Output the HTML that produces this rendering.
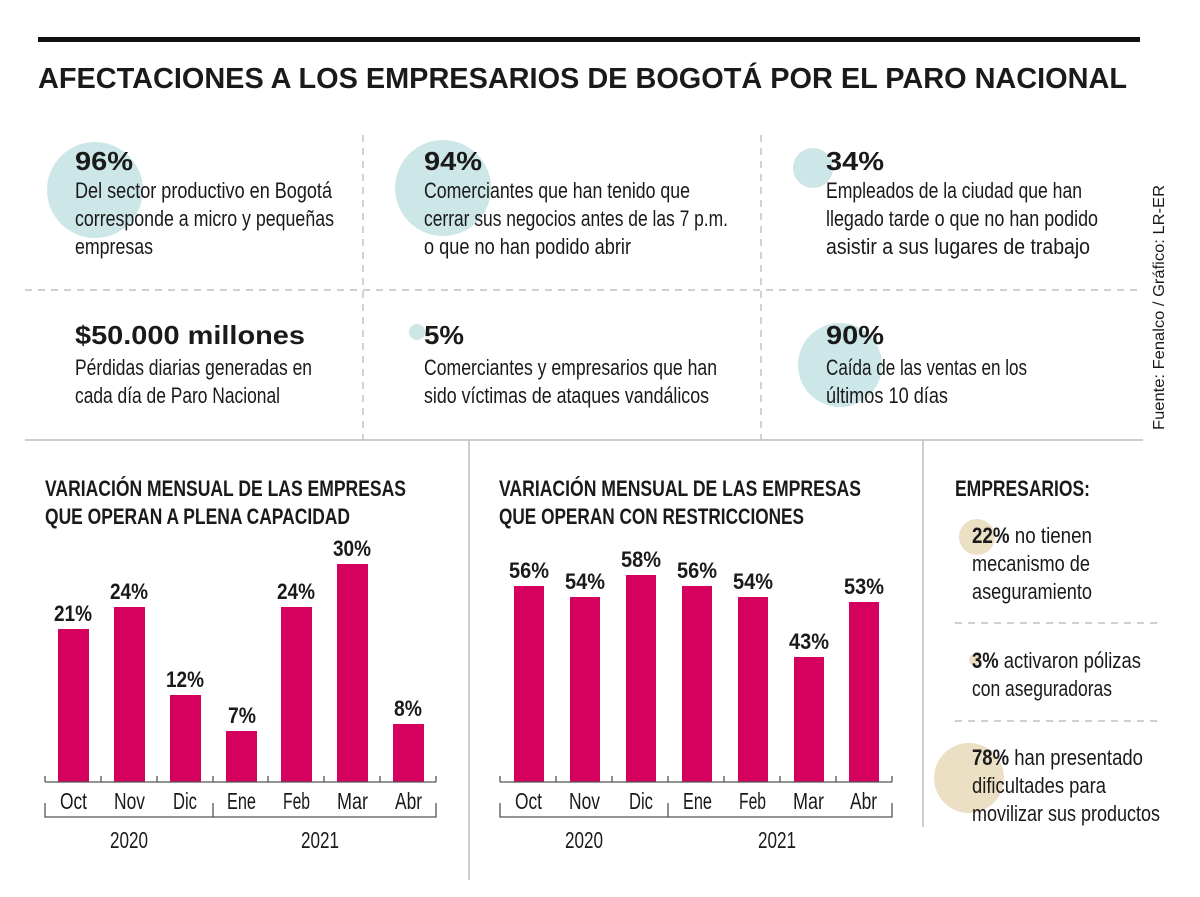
<!DOCTYPE html>
<html><head><meta charset="utf-8"><style>
html,body{margin:0;padding:0;background:#fff}
svg{display:block}
text{font-family:"Liberation Sans Narrow","Liberation Sans",sans-serif;fill:#1a1a1a}
.b{font-weight:bold}
</style></head><body>
<svg width="1200" height="897" viewBox="0 0 1200 897" xmlns="http://www.w3.org/2000/svg">
<rect x="38" y="37" width="1102" height="5" fill="#111"/>
<text x="38" y="88" class="b" font-size="29" textLength="1089" lengthAdjust="spacingAndGlyphs">AFECTACIONES A LOS EMPRESARIOS DE BOGOTÁ POR EL PARO NACIONAL</text>

<g fill="#cde6e7">
<circle cx="95" cy="190" r="48"/><circle cx="443" cy="188" r="48"/><circle cx="813" cy="168" r="20"/>
<circle cx="417" cy="332" r="8"/><circle cx="840" cy="365" r="42"/>
</g>
<g fill="#ebdfc4">
<circle cx="977" cy="537" r="18"/><circle cx="975" cy="660" r="6"/><circle cx="969" cy="778" r="35"/>
</g>

<g stroke="#b5b5b5" stroke-width="1.2" stroke-dasharray="7,6" fill="none">
<line x1="363" y1="135" x2="363" y2="440"/><line x1="761" y1="135" x2="761" y2="440"/>
<line x1="25" y1="290" x2="1140" y2="290"/>
<line x1="955" y1="623" x2="1163" y2="623"/><line x1="955" y1="721" x2="1163" y2="721"/>
</g>
<line x1="25" y1="440" x2="1143" y2="440" stroke="#bdbdbd" stroke-width="1.5"/>
<line x1="469" y1="440" x2="469" y2="880" stroke="#bdbdbd" stroke-width="1.5"/>
<line x1="923" y1="440" x2="923" y2="827" stroke="#bdbdbd" stroke-width="1.5"/>

<g font-size="22">
<text x="75" y="170" class="b" font-size="26" textLength="58" lengthAdjust="spacingAndGlyphs">96%</text>
<text x="75" y="198" textLength="257" lengthAdjust="spacingAndGlyphs">Del sector productivo en Bogotá</text>
<text x="75" y="226" textLength="259" lengthAdjust="spacingAndGlyphs">corresponde a micro y pequeñas</text>
<text x="75" y="254" textLength="78" lengthAdjust="spacingAndGlyphs">empresas</text>

<text x="424" y="170" class="b" font-size="26" textLength="58" lengthAdjust="spacingAndGlyphs">94%</text>
<text x="424" y="198" textLength="266" lengthAdjust="spacingAndGlyphs">Comerciantes que han tenido que</text>
<text x="424" y="226" textLength="304" lengthAdjust="spacingAndGlyphs">cerrar sus negocios antes de las 7 p.m.</text>
<text x="424" y="254" textLength="207" lengthAdjust="spacingAndGlyphs">o que no han podido abrir</text>

<text x="826" y="170" class="b" font-size="26" textLength="58" lengthAdjust="spacingAndGlyphs">34%</text>
<text x="826" y="198" textLength="256" lengthAdjust="spacingAndGlyphs">Empleados de la ciudad que han</text>
<text x="826" y="226" textLength="272" lengthAdjust="spacingAndGlyphs">llegado tarde o que no han podido</text>
<text x="826" y="254" textLength="264" lengthAdjust="spacingAndGlyphs">asistir a sus lugares de trabajo</text>

<text x="75" y="344" class="b" font-size="26" textLength="230" lengthAdjust="spacingAndGlyphs">$50.000 millones</text>
<text x="75" y="375" textLength="237" lengthAdjust="spacingAndGlyphs">Pérdidas diarias generadas en</text>
<text x="75" y="403" textLength="205" lengthAdjust="spacingAndGlyphs">cada día de Paro Nacional</text>

<text x="424" y="344" class="b" font-size="26" textLength="40" lengthAdjust="spacingAndGlyphs">5%</text>
<text x="424" y="375" textLength="293" lengthAdjust="spacingAndGlyphs">Comerciantes y empresarios que han</text>
<text x="424" y="403" textLength="285" lengthAdjust="spacingAndGlyphs">sido víctimas de ataques vandálicos</text>

<text x="826" y="344" class="b" font-size="26" textLength="58" lengthAdjust="spacingAndGlyphs">90%</text>
<text x="826" y="375" textLength="201" lengthAdjust="spacingAndGlyphs">Caída de las ventas en los</text>
<text x="826" y="403" textLength="122" lengthAdjust="spacingAndGlyphs">últimos 10 días</text>
</g>
<text transform="translate(1164,430) rotate(-90)" font-size="16" fill="#333" textLength="245" lengthAdjust="spacingAndGlyphs" style="font-family:'Liberation Sans',sans-serif">Fuente: Fenalco / Gráfico: LR-ER</text>

<g font-size="22">
<text x="45" y="496" class="b" textLength="361" lengthAdjust="spacingAndGlyphs">VARIACIÓN MENSUAL DE LAS EMPRESAS</text>
<text x="45" y="524" class="b" textLength="305" lengthAdjust="spacingAndGlyphs">QUE OPERAN A PLENA CAPACIDAD</text>
<text x="499" y="496" class="b" textLength="362" lengthAdjust="spacingAndGlyphs">VARIACIÓN MENSUAL DE LAS EMPRESAS</text>
<text x="499" y="524" class="b" textLength="305" lengthAdjust="spacingAndGlyphs">QUE OPERAN CON RESTRICCIONES</text>
<text x="955" y="496" class="b" textLength="135" lengthAdjust="spacingAndGlyphs">EMPRESARIOS:</text>
</g>

<!-- chart 1 -->
<g fill="#d6005e">
<rect x="58" y="629" width="31" height="153"/><rect x="114" y="607" width="31" height="175"/>
<rect x="170" y="695" width="31" height="87"/><rect x="226" y="731" width="31" height="51"/>
<rect x="281" y="607" width="31" height="175"/><rect x="337" y="564" width="31" height="218"/>
<rect x="393" y="724" width="31" height="58"/>
</g>
<g font-size="22" lengthAdjust="spacingAndGlyphs">
<text class="b" x="54" y="621" textLength="38" lengthAdjust="spacingAndGlyphs">21%</text>
<text class="b" x="110" y="599" textLength="38" lengthAdjust="spacingAndGlyphs">24%</text>
<text class="b" x="166" y="687" textLength="38" lengthAdjust="spacingAndGlyphs">12%</text>
<text class="b" x="228" y="723" textLength="28" lengthAdjust="spacingAndGlyphs">7%</text>
<text class="b" x="277" y="599" textLength="38" lengthAdjust="spacingAndGlyphs">24%</text>
<text class="b" x="333" y="556" textLength="38" lengthAdjust="spacingAndGlyphs">30%</text>
<text class="b" x="394" y="716" textLength="28" lengthAdjust="spacingAndGlyphs">8%</text>
</g>
<g stroke="#555" stroke-width="1.3" fill="none">
<line x1="45" y1="782" x2="436" y2="782"/>
<path d="M45 776V782M101 776V782M157 776V782M213 776V782M268 776V782M324 776V782M380 776V782M436 776V782"/>
<path d="M45 803V817H436V803M213 803V817"/>
</g>
<g font-size="23">
<text x="60" y="809" textLength="27" lengthAdjust="spacingAndGlyphs">Oct</text>
<text x="114" y="809" textLength="31" lengthAdjust="spacingAndGlyphs">Nov</text>
<text x="173" y="809" textLength="24" lengthAdjust="spacingAndGlyphs">Dic</text>
<text x="227" y="809" textLength="29" lengthAdjust="spacingAndGlyphs">Ene</text>
<text x="283" y="809" textLength="27" lengthAdjust="spacingAndGlyphs">Feb</text>
<text x="337" y="809" textLength="31" lengthAdjust="spacingAndGlyphs">Mar</text>
<text x="395" y="809" textLength="27" lengthAdjust="spacingAndGlyphs">Abr</text>
<text x="110" y="848" textLength="38" lengthAdjust="spacingAndGlyphs">2020</text>
<text x="301" y="848" textLength="38" lengthAdjust="spacingAndGlyphs">2021</text>
</g>

<!-- chart 2 -->
<g fill="#d6005e">
<rect x="514" y="586" width="30" height="196"/><rect x="570" y="597" width="30" height="185"/>
<rect x="626" y="575" width="30" height="207"/><rect x="682" y="586" width="30" height="196"/>
<rect x="738" y="597" width="30" height="185"/><rect x="794" y="657" width="30" height="125"/>
<rect x="849" y="602" width="30" height="180"/>
</g>
<g font-size="22">
<text class="b" x="509" y="578" textLength="40" lengthAdjust="spacingAndGlyphs">56%</text>
<text class="b" x="565" y="589" textLength="40" lengthAdjust="spacingAndGlyphs">54%</text>
<text class="b" x="621" y="567" textLength="40" lengthAdjust="spacingAndGlyphs">58%</text>
<text class="b" x="677" y="578" textLength="40" lengthAdjust="spacingAndGlyphs">56%</text>
<text class="b" x="733" y="589" textLength="40" lengthAdjust="spacingAndGlyphs">54%</text>
<text class="b" x="789" y="649" textLength="40" lengthAdjust="spacingAndGlyphs">43%</text>
<text class="b" x="844" y="594" textLength="40" lengthAdjust="spacingAndGlyphs">53%</text>
</g>
<g stroke="#555" stroke-width="1.3" fill="none">
<line x1="500" y1="782" x2="892" y2="782"/>
<path d="M500 776V782M556 776V782M612 776V782M668 776V782M724 776V782M780 776V782M836 776V782M892 776V782"/>
<path d="M500 803V817H892V803M668 803V817"/>
</g>
<g font-size="23">
<text x="515" y="809" textLength="27" lengthAdjust="spacingAndGlyphs">Oct</text>
<text x="569" y="809" textLength="31" lengthAdjust="spacingAndGlyphs">Nov</text>
<text x="629" y="809" textLength="24" lengthAdjust="spacingAndGlyphs">Dic</text>
<text x="683" y="809" textLength="29" lengthAdjust="spacingAndGlyphs">Ene</text>
<text x="739" y="809" textLength="27" lengthAdjust="spacingAndGlyphs">Feb</text>
<text x="793" y="809" textLength="31" lengthAdjust="spacingAndGlyphs">Mar</text>
<text x="850" y="809" textLength="27" lengthAdjust="spacingAndGlyphs">Abr</text>
<text x="565" y="848" textLength="38" lengthAdjust="spacingAndGlyphs">2020</text>
<text x="758" y="848" textLength="38" lengthAdjust="spacingAndGlyphs">2021</text>
</g>

<g font-size="22">
<text x="972" y="543" textLength="120" lengthAdjust="spacingAndGlyphs"><tspan class="b">22%</tspan> no tienen</text>
<text x="972" y="571" textLength="118" lengthAdjust="spacingAndGlyphs">mecanismo de</text>
<text x="972" y="599" textLength="120" lengthAdjust="spacingAndGlyphs">aseguramiento</text>
<text x="972" y="668" textLength="169" lengthAdjust="spacingAndGlyphs"><tspan class="b">3%</tspan> activaron pólizas</text>
<text x="972" y="696" textLength="140" lengthAdjust="spacingAndGlyphs">con aseguradoras</text>
<text x="972" y="765" textLength="171" lengthAdjust="spacingAndGlyphs"><tspan class="b">78%</tspan> han presentado</text>
<text x="972" y="793" textLength="134" lengthAdjust="spacingAndGlyphs">dificultades para</text>
<text x="972" y="821" textLength="188" lengthAdjust="spacingAndGlyphs">movilizar sus productos</text>
</g>
</svg>
</body></html>
